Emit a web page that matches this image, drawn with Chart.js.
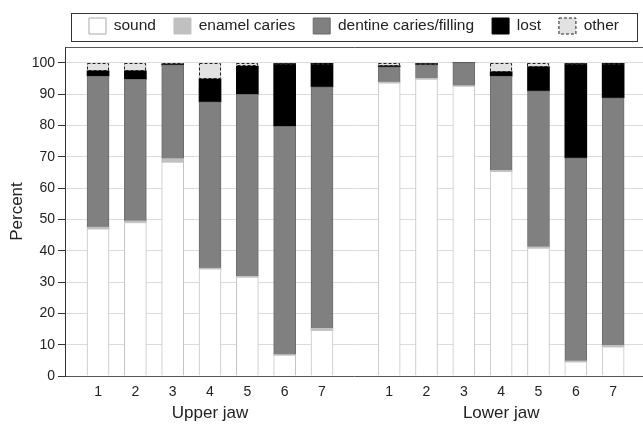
<!DOCTYPE html>
<html>
<head>
<meta charset="utf-8">
<script src="https://cdn.jsdelivr.net/npm/chart.js@4.4.1/dist/chart.umd.min.js"></script>
<style>
body { margin: 0; background: #fff; }
</style>
</head>
<body>
<canvas id="teethChart" width="643" height="425"></canvas>
<script>
// data (percent of teeth)
const teeth = ['1', '2', '3', '4', '5', '6', '7'];
const jawNames = ['Upper jaw', 'Lower jaw'];
const categories = ['sound', 'enamel caries', 'dentine caries/filling', 'lost', 'other'];
const yTicks = [0, 10, 20, 30, 40, 50, 60, 70, 80, 90, 100];

const upperSound   = [47.0, 49.0, 68.3, 34.2, 31.6, 6.7, 14.6];
const upperEnamel  = [0.5, 0.5, 1.0, 0.2, 0.2, 0.1, 0.6];
const upperDentine = [48.2, 45.2, 30.0, 53.1, 58.1, 72.9, 77.1];
const upperLost    = [1.7, 2.7, 0.3, 7.3, 9.0, 20.0, 7.5];
const upperOther   = [2.6, 2.6, 0.4, 5.2, 1.1, 0.3, 0.2];

const lowerSound   = [93.6, 94.8, 92.5, 65.3, 40.8, 4.5, 9.3];
const lowerEnamel  = [0.2, 0.2, 0.1, 0.3, 0.4, 0.3, 0.4];
const lowerDentine = [4.9, 4.4, 7.4, 30.1, 49.8, 64.8, 79.1];
const lowerLost    = [0.3, 0.3, 0, 1.4, 7.7, 30.1, 11.0];
const lowerOther   = [1.0, 0.3, 0, 2.9, 1.3, 0.3, 0.2];

// styling
const fills   = ['#ffffff', '#c0c0c0', '#808080', '#000000', '#e2e2e2'];
const borders = ['#c4c4c4', '#c0c0c0', '#6c6c6c', '#000000', '#222222'];
const LOWER_SHIFT = 7.8; // gap between the two jaws on the x axis

const upperVals = [upperSound, upperEnamel, upperDentine, upperLost, upperOther];
const lowerVals = [lowerSound, lowerEnamel, lowerDentine, lowerLost, lowerOther];
const positions = teeth.map((t, i) => i + 1).concat(teeth.map((t, i) => i + 1 + LOWER_SHIFT));

Chart.defaults.font.family = '"Liberation Sans", Arial, sans-serif';
Chart.defaults.color = '#222';

const datasets = categories.map((name, c) => ({
    label: name,
    data: upperVals[c].concat(lowerVals[c]).map((v, i) => ({x: positions[i], y: v})),
    backgroundColor: fills[c],
    borderColor: borders[c],
    borderWidth: (c === 0 || c === 2) ? 1 : 0,
    barThickness: 22
}));

// dashed outline for "other"
const dashedOther = {
    id: 'dashedOther',
    afterDatasetsDraw(chart) {
        const ctx = chart.ctx;
        const meta = chart.getDatasetMeta(4);
        ctx.save();
        ctx.setLineDash([3, 2]);
        ctx.strokeStyle = '#222';
        ctx.lineWidth = 1;
        meta.data.forEach((bar, i) => {
            if (!chart.data.datasets[4].data[i].y) return;
            const p = bar.getProps(['x', 'y', 'base', 'width'], true);
            const l = Math.round(p.x - p.width / 2) + 0.5;
            const t = Math.round(p.y) + 0.5;
            const h = Math.max(1, Math.round(p.base - p.y) - 1);
            ctx.strokeRect(l, t, Math.round(p.width) - 1, h);
        });
        ctx.restore();
    }
};

// frame round the legend + jaw names under the axis
const extras = {
    id: 'extras',
    afterDraw(chart) {
        const ctx = chart.ctx;
        const boxes = chart.legend.legendHitBoxes;
        const left = Math.min(...boxes.map(b => b.left));
        const right = Math.max(...boxes.map(b => b.left + b.width));
        const top = boxes[0].top;
        ctx.save();
        ctx.strokeStyle = '#333';
        ctx.lineWidth = 1;
        ctx.strokeRect(Math.round(left - 18) + 0.5, Math.round(top - 5) + 0.5, Math.round(right - left + 36), 28);

        const xs = chart.scales.x;
        ctx.font = '17px "Liberation Sans", Arial, sans-serif';
        ctx.fillStyle = '#222';
        ctx.textAlign = 'center';
        ctx.textBaseline = 'middle';
        ctx.fillText(jawNames[0], xs.getPixelForValue(4), 413);
        ctx.fillText(jawNames[1], xs.getPixelForValue(4 + LOWER_SHIFT), 413);
        ctx.restore();
    }
};

new Chart(document.getElementById('teethChart'), {
    type: 'bar',
    data: { datasets: datasets },
    options: {
        responsive: false,
        animation: false,
        devicePixelRatio: 1,
        layout: { padding: { top: 0, left: 0, right: 0, bottom: 0 } },
        plugins: {
            tooltip: { enabled: false },
            legend: {
                position: 'top',
                fullSize: false,
                labels: {
                    font: { size: 15.5 },
                    color: '#222',
                    boxWidth: 17,
                    boxHeight: 16,
                    padding: 18,
                    generateLabels: chart => chart.data.datasets.map((ds, i) => ({
                        text: ds.label,
                        fillStyle: fills[i],
                        strokeStyle: i === 0 ? '#aaaaaa' : borders[i],
                        lineWidth: 1,
                        lineDash: i === 4 ? [3, 2] : [],
                        fontColor: '#222',
                        hidden: false,
                        datasetIndex: i
                    }))
                }
            }
        },
        scales: {
            x: {
                type: 'linear',
                stacked: true,
                offset: false,
                min: 0.115,
                max: 15.6,
                afterBuildTicks: s => { s.ticks = positions.map(v => ({value: v})); },
                afterFit: s => { s.height = 49; },
                ticks: {
                    font: { size: 14 },
                    color: '#222',
                    padding: 8,
                    autoSkip: false,
                    maxRotation: 0,
                    callback: (v, i) => teeth[i % teeth.length]
                },
                grid: { display: false, drawTicks: false, offset: false },
                border: { color: '#555' }
            },
            xTop: {
                type: 'linear',
                position: 'top',
                min: 0,
                max: 1,
                afterFit: s => { s.height = 3; },
                ticks: { display: false },
                grid: { display: false, drawTicks: false },
                border: { display: true, color: '#555' }
            },
            y: {
                stacked: true,
                min: 0,
                max: 105,
                afterBuildTicks: s => { s.ticks = yTicks.map(v => ({value: v})); },
                afterFit: s => { s.width = 65; },
                ticks: { font: { size: 14 }, color: '#222', padding: 3 },
                grid: { color: '#dcdcdc', tickColor: '#333', tickLength: 7 },
                border: { color: '#333' },
                title: {
                    display: true,
                    text: 'Percent',
                    font: { size: 17 },
                    color: '#222',
                    padding: { top: 7, bottom: 4 }
                }
            }
        }
    },
    plugins: [dashedOther, extras]
});
</script>
</body>
</html>
